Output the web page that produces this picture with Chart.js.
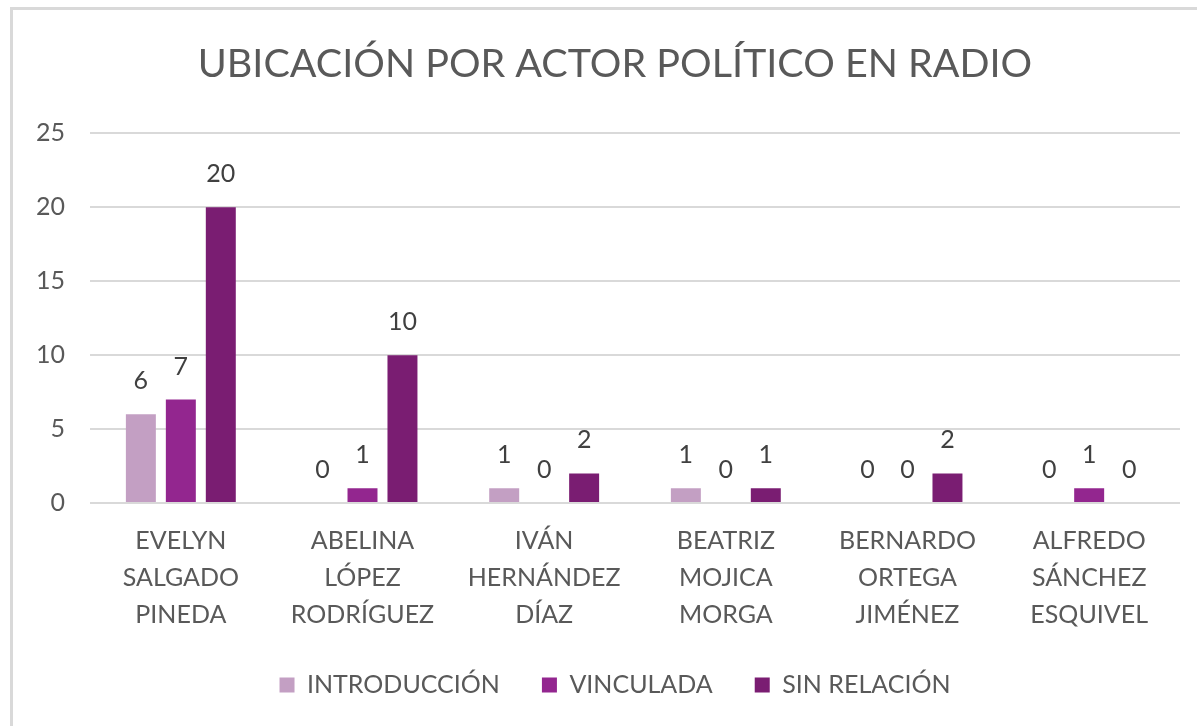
<!DOCTYPE html>
<html>
<head>
<meta charset="utf-8">
<script src="https://cdn.jsdelivr.net/npm/chart.js@4.4.1/dist/chart.umd.min.js"></script>
<style>
  html, body { margin: 0; padding: 0; background: #fff; overflow: hidden; }
  #box {
    position: absolute; left: 10px; top: 7px;
    width: 1204px; height: 716px;
    border: 3px solid #d9d9d9;
    background: #fff;
  }
</style>
</head>
<body>
<div id="box"><canvas id="grafica" width="1204" height="716"></canvas></div>
<script>
// datos de la grafica
var actores = [
  ["EVELYN", "SALGADO", "PINEDA"],
  ["ABELINA", "LÓPEZ", "RODRÍGUEZ"],
  ["IVÁN", "HERNÁNDEZ", "DÍAZ"],
  ["BEATRIZ", "MOJICA", "MORGA"],
  ["BERNARDO", "ORTEGA", "JIMÉNEZ"],
  ["ALFREDO", "SÁNCHEZ", "ESQUIVEL"]
];
var introduccion = [6, 0, 1, 1, 0, 0];
var vinculada = [7, 1, 0, 0, 0, 1];
var sinRelacion = [20, 10, 2, 1, 2, 0];
var ticksY = [0, 5, 10, 15, 20, 25];

var fuente = "Lato, 'Open Sans', sans-serif";

// etiquetas encima de cada barra
var etiquetas = {
  id: "etiquetas",
  afterDatasetsDraw: function (chart) {
    var ctx = chart.ctx;
    ctx.save();
    ctx.font = "25px " + fuente;
    ctx.fillStyle = "#404040";
    ctx.textAlign = "center";
    ctx.textBaseline = "middle";
    chart.data.datasets.forEach(function (ds, i) {
      chart.getDatasetMeta(i).data.forEach(function (bar, j) {
        ctx.fillText(ds.data[j], bar.x, bar.y - 33);
      });
    });
    ctx.restore();
  }
};

new Chart(document.getElementById("grafica"), {
  type: "bar",
  data: {
    labels: actores,
    datasets: [
      { label: "INTRODUCCIÓN", data: introduccion, backgroundColor: "#c39fc3" },
      { label: "VINCULADA", data: vinculada, backgroundColor: "#93268f" },
      { label: "SIN RELACIÓN", data: sinRelacion, backgroundColor: "#7a1d72" }
    ]
  },
  options: {
    responsive: false,
    animation: false,
    layout: { padding: { left: 37, right: 37, top: 0, bottom: 18.5 } },
    datasets: { bar: { barPercentage: 0.75, categoryPercentage: 0.66 } },
    scales: {
      x: {
        grid: { display: false },
        border: { display: false },
        afterFit: function (s) { s.height = 127.5; },
        ticks: {
          color: "#595959",
          font: { family: fuente, size: 25, lineHeight: 1.48 },
          padding: 11,
          maxRotation: 0
        }
      },
      y: {
        min: 0, max: 25,
        afterBuildTicks: function (s) { s.ticks = ticksY.map(function (v) { return { value: v }; }); },
        afterFit: function (s) {
          s.width = 40;
          // que no recorte las etiquetas que salen a la izquierda
          s._computeLabelArea = function () { return undefined; };
        },
        grid: { color: "#d9d9d9", lineWidth: 2, drawTicks: false },
        border: { display: false },
        ticks: {
          color: "#595959",
          font: { family: fuente, size: 25 },
          padding: 25
        }
      }
    },
    plugins: {
      title: {
        display: true,
        text: "UBICACIÓN POR ACTOR POLÍTICO EN RADIO",
        color: "#595959",
        font: { family: fuente, size: 39.5, weight: "normal" },
        padding: { top: 31, bottom: 45 }
      },
      legend: {
        position: "bottom",
        labels: {
          color: "#595959",
          font: { family: fuente, size: 25 },
          boxWidth: 15, boxHeight: 15,
          padding: 42
        }
      },
      tooltip: { enabled: false }
    }
  },
  plugins: [etiquetas]
});
</script>
</body>
</html>
